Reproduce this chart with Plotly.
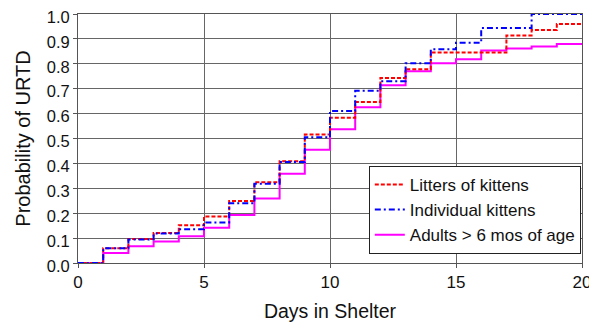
import plotly.graph_objects as go

days = list(range(21))
litters = [0.0, 0.059, 0.096, 0.12, 0.152, 0.187, 0.249, 0.324, 0.409, 0.516, 0.583,
           0.647, 0.743, 0.778, 0.845, 0.845, 0.845, 0.914, 0.936, 0.96, 0.96]
individual = [0.0, 0.059, 0.094, 0.118, 0.136, 0.163, 0.24, 0.318, 0.406, 0.505, 0.61,
              0.692, 0.73, 0.802, 0.858, 0.885, 0.944, 0.944, 1.0, 1.0, 1.0]
adults = [0.0, 0.04, 0.067, 0.086, 0.107, 0.142, 0.193, 0.259, 0.358, 0.455, 0.537,
          0.626, 0.714, 0.77, 0.802, 0.818, 0.853, 0.861, 0.869, 0.88, 0.88]
names = ["Litters of kittens", "Individual kittens", "Adults > 6 mos of age"]
y_ticks = [i / 10 for i in range(11)]
y_labels = ["%.1f" % v for v in y_ticks]
x_ticks = [0, 5, 10, 15, 20]

font = "Liberation Sans, Arial, sans-serif"
fig = go.Figure()
fig.add_trace(go.Scatter(x=days, y=adults, name=names[2], mode="lines", line_shape="hv",
                         line=dict(color="#FF00FF", width=2), legendrank=3))
fig.add_trace(go.Scatter(x=days, y=litters, name=names[0], mode="lines", line_shape="hv",
                         line=dict(color="#FF0000", width=2, dash="4px,2px"), legendrank=1))
fig.add_trace(go.Scatter(x=days, y=individual, name=names[1], mode="lines", line_shape="hv",
                         line=dict(color="#0000FF", width=2, dash="6px,3px,2px,3px"), legendrank=2))

fig.update_layout(
    width=589, height=317,
    margin=dict(l=70, r=15, t=6, b=62),
    paper_bgcolor="white", plot_bgcolor="white",
    font=dict(family=font, size=17, color="#111"),
    showlegend=True,
    legend=dict(x=0.577, y=0.39, xanchor="left", yanchor="top",
                bgcolor="white", bordercolor="#222", borderwidth=1,
                font=dict(size=17), tracegroupgap=0, itemwidth=30),
    xaxis=dict(range=[0, 20], tickvals=x_ticks, showgrid=True, gridcolor="#666",
               gridwidth=1, showline=True, linecolor="#555", mirror=True,
               ticks="outside", ticklen=4, tickcolor="#555", zeroline=False,
               automargin=False, ticklabeloverflow="allow",
               title=dict(text="Days in Shelter", font=dict(size=19.5), standoff=12),
               tickfont=dict(size=17)),
    yaxis=dict(range=[0, 1], tickvals=y_ticks, ticktext=y_labels, showgrid=True,
               gridcolor="#666", gridwidth=1, showline=True, linecolor="#555",
               mirror=True, ticks="outside", ticklen=4, tickcolor="#555",
               zeroline=False, automargin=False, ticklabeloverflow="allow",
               ticklabelshift=3,
               title=dict(text="Probability of URTD", font=dict(size=20), standoff=10),
               tickfont=dict(size=16.5)),
)
fig.write_html("out.html")
